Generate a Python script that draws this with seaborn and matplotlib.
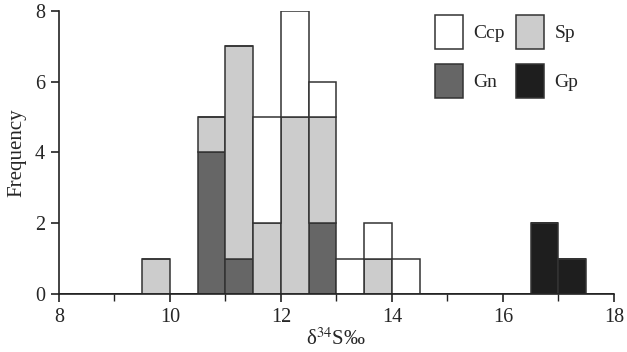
import numpy as np
import pandas as pd
import matplotlib
matplotlib.use("Agg")
import matplotlib.pyplot as plt
import seaborn as sns
from matplotlib.patches import Patch
from matplotlib.ticker import MultipleLocator

# bin centres (width 0.5) and counts per mineral
bin_centers = [9.75, 10.75, 11.25, 11.75, 12.25, 12.75, 13.25, 13.75, 14.25, 16.75, 17.25]
ccp_counts = [0, 0, 0, 3, 3, 1, 1, 1, 1, 0, 0]
sp_counts = [1, 1, 6, 2, 5, 3, 0, 1, 0, 0, 0]
gn_counts = [0, 4, 1, 0, 0, 2, 0, 0, 0, 0, 0]
gp_counts = [0, 0, 0, 0, 0, 0, 0, 0, 0, 2, 1]

minerals = ["Ccp", "Sp", "Gn", "Gp"]
colors = {"Ccp": "#ffffff", "Sp": "#cccccc", "Gn": "#666666", "Gp": "#1e1e1e"}

frames = []
for name, counts in zip(minerals, [ccp_counts, sp_counts, gn_counts, gp_counts]):
    vals = np.repeat(bin_centers, counts)
    frames.append(pd.DataFrame({"d34S": vals, "mineral": name}))
df = pd.concat(frames, ignore_index=True)

sns.set_style("ticks")
plt.rcParams["font.family"] = ["Liberation Serif", "DejaVu Serif"]
plt.rcParams["mathtext.fontset"] = "stix"

fig = plt.figure(figsize=(6.27, 3.52), dpi=100)
ax = fig.add_axes([0.094, 0.165, 0.885, 0.804])

sns.histplot(
    data=df, x="d34S", hue="mineral",
    hue_order=minerals, palette=colors, binwidth=0.5, binrange=(8, 18),
    multiple="stack", alpha=1, edgecolor="#333333", linewidth=1.1,
    legend=False, ax=ax,
)

ax.set_xlim(8, 18)
ax.set_ylim(0, 8)
ax.xaxis.set_major_locator(MultipleLocator(2))
ax.xaxis.set_minor_locator(MultipleLocator(1))
ax.yaxis.set_major_locator(MultipleLocator(2))
ax.tick_params(axis="both", which="major", direction="out", length=6, width=1.2,
               labelsize=14.5, color="#222222", pad=4)
ax.tick_params(axis="x", which="minor", direction="out", length=5, width=1.0, color="#222222")
for s in ["left", "bottom"]:
    ax.spines[s].set_linewidth(1.2)
    ax.spines[s].set_color("#222222")
sns.despine(ax=ax)

ax.set_xlabel(r"δ$^{34}$S‰", fontsize=15, labelpad=1)
ax.set_ylabel("Frequency", fontsize=15, labelpad=6)

handles = [Patch(facecolor=colors[m], edgecolor="#333333", linewidth=1.1, label=m)
           for m in ["Ccp", "Gn", "Sp", "Gp"]]
ax.legend(handles=handles, ncol=2, loc="upper left", bbox_to_anchor=(0.677, 0.986),
          frameon=False, fontsize=14, borderpad=0, borderaxespad=0,
          handlelength=1.45, handleheight=2.3, handletextpad=0.55,
          columnspacing=0.55, labelspacing=0.8)

fig.savefig("out.png", dpi=100)
